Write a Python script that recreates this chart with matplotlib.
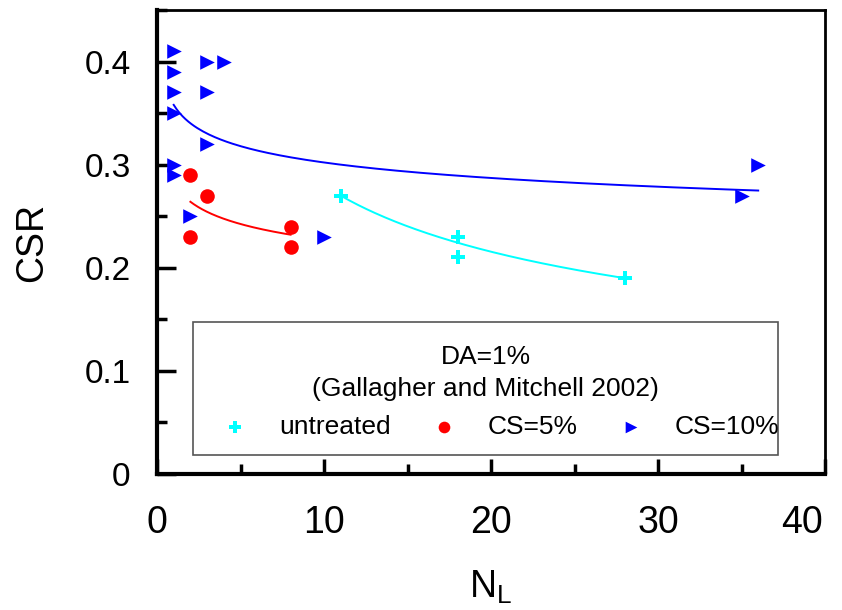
import numpy as np
import matplotlib
matplotlib.use("Agg")
import matplotlib.pyplot as plt
from matplotlib.ticker import MultipleLocator
from matplotlib.patches import Rectangle
import matplotlib.transforms as mtransforms

plt.rcParams['font.family'] = ['Liberation Sans', 'DejaVu Sans']

# data
untreated_x = [11, 18, 18, 28]
untreated_y = [0.27, 0.23, 0.21, 0.19]
cs5_x = [2, 2, 3, 8, 8]
cs5_y = [0.29, 0.23, 0.27, 0.24, 0.22]
cs10_x = [1, 1, 1, 1, 1, 1, 2, 3, 3, 3, 4, 10, 35, 36]
cs10_y = [0.41, 0.39, 0.37, 0.35, 0.30, 0.29, 0.25, 0.40, 0.37, 0.32, 0.40, 0.23, 0.27, 0.30]

# power-law trend lines y = a * x**b (coefficients), ranges
fit_untreated = (0.665, -0.376, 11, 28)
fit_cs5 = (0.2816, -0.093, 2, 8)
fit_cs10 = (0.358, -0.0737, 1, 36)

legend_title = ['DA=1%', '(Gallagher and Mitchell 2002)']

fig = plt.figure(figsize=(8.42, 6.10), dpi=100)
ax = fig.add_axes([157/842, 1-474/610, (825-157)/842, (474-10)/610])

def trend(fit, color):
    a, b, x0, x1 = fit
    xs = np.linspace(x0, x1, 200)
    ax.plot(xs, a * xs**b, color=color, lw=1.4, zorder=2)

trend(fit_untreated, '#00ffff')
trend(fit_cs5, '#ff0000')
trend(fit_cs10, '#0000ff')

ax.scatter(untreated_x, untreated_y, marker='P', s=110, color='#00ffff', linewidths=0, label='untreated', zorder=3)
ax.scatter(cs5_x, cs5_y, marker='o', s=110, color='#ff0000', linewidths=0, label='CS=5%', zorder=3)
ax.scatter(cs10_x, cs10_y, marker='>', s=110, color='#0000ff', linewidths=0, label='CS=10%', zorder=3)

ax.set_xlim(0, 40)
ax.set_ylim(0, 0.45)
ax.xaxis.set_major_locator(MultipleLocator(10))
ax.xaxis.set_minor_locator(MultipleLocator(5))
ax.yaxis.set_minor_locator(MultipleLocator(0.05))
ax.set_yticks([0, 0.1, 0.2, 0.3, 0.4])
ax.set_yticklabels(['0', '0.1', '0.2', '0.3', '0.4'])

ax.tick_params(which='major', direction='in', width=2.5, top=False, right=False)
ax.tick_params(which='minor', direction='in', length=7, width=2.5, top=False, right=False)
ax.tick_params(axis='x', which='major', length=11, labelsize=27, pad=22)
ax.tick_params(axis='y', which='major', length=14, labelsize=24, pad=19)
for s in ['left', 'bottom']:
    ax.spines[s].set_linewidth(3)
for s in ['top', 'right']:
    ax.spines[s].set_linewidth(2)

ax.set_xlabel('N$_\\mathregular{L}$', fontsize=27, labelpad=20)
ax.set_ylabel('CSR', fontsize=27, labelpad=25)

# shift last x tick label left so it stays inside the figure
fig.canvas.draw()
for lab in ax.get_xticklabels():
    if lab.get_text() == '40':
        lab.set_transform(lab.get_transform() + mtransforms.ScaledTranslation(-23/100, 0, fig.dpi_scale_trans))

# legend box (frame + title + entries)
fx = lambda px: (px - 157) / 668
fy = lambda py: (474 - py) / 464
ax.add_patch(Rectangle((fx(193), fy(455)), fx(778) - fx(193), fy(322) - fy(455),
                       transform=ax.transAxes, facecolor='white', edgecolor='#555555',
                       lw=1.2, zorder=4))
ax.text(fx(485.5), fy(357), legend_title[0], transform=ax.transAxes, ha='center', va='center',
        fontsize=19, zorder=5)
ax.text(fx(485.5), fy(389), legend_title[1], transform=ax.transAxes, ha='center', va='center',
        fontsize=19, zorder=5)

leg = ax.legend(loc='center', bbox_to_anchor=(fx(193), fy(427), fx(790) - fx(193), 0),
                mode='expand', ncol=3, fontsize=19, frameon=False,
                handlelength=2.4, handletextpad=0.45, borderaxespad=0, borderpad=0.4,
                scatterpoints=1, markerscale=0.8)
leg.set_zorder(6)

fig.savefig('out.png', dpi=100)
